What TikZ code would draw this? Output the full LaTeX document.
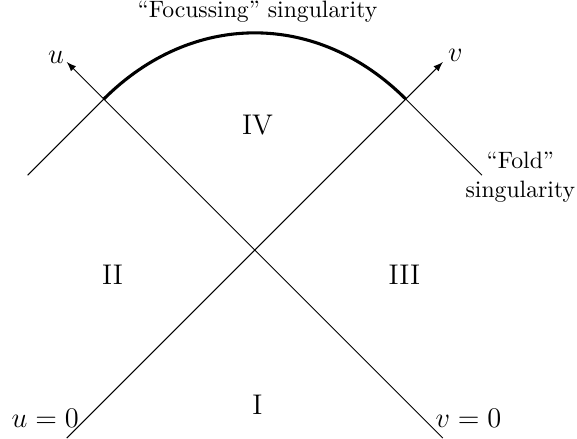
\documentclass[tikz,border=0pt]{standalone}
\usepackage{tikz}

\begin{document}
\begin{tikzpicture}[every node/.style={inner sep=1pt}, sing/.style={line width=1.3pt}]
\useasboundingbox (-3.78,-2.79) rectangle (4.78,3.71);

\coordinate (a) at (-2.79,-2.79);
\coordinate (b) at (2.79,-2.79);
\coordinate (ut) at (-2.79,2.79);
\coordinate (vt) at (2.79,2.79);
\coordinate (L) at (-2.24,2.24);
\coordinate (R) at (2.24,2.24);
\coordinate (le) at (-3.37,1.11);
\coordinate (re) at (3.37,1.11);

\draw[-latex] (a) -- (vt);
\draw[-latex] (b) -- (ut);
\draw (le) -- (L);
\draw (R) -- (re);
\draw[sing] (L) .. controls (-0.93,3.55) and (0.93,3.55) .. (R);

\node[anchor=south east,yshift=-1.8pt] (u) at (ut) {\large$u$};
\node[anchor=south west,inner sep=2pt,yshift=-2pt] (v) at (vt) {\large$v$};
\node (u0) at (-3.11,-2.49) {\large$u=0$};
\node (v0) at (3.17,-2.49) {\large$v=0$};

\node (I) at (0.04,-2.30) {\large I};
\node (II) at (-2.11,-0.36) {\large II};
\node (III) at (2.22,-0.36) {\large III};
\node (IV) at (0.04,1.85) {\large IV};

\node (foc) at (0.04,3.53) {``Focussing'' singularity};
\node[align=center] (fold) at (3.94,1.08) {``Fold''\\singularity};
\end{tikzpicture}
\end{document}
